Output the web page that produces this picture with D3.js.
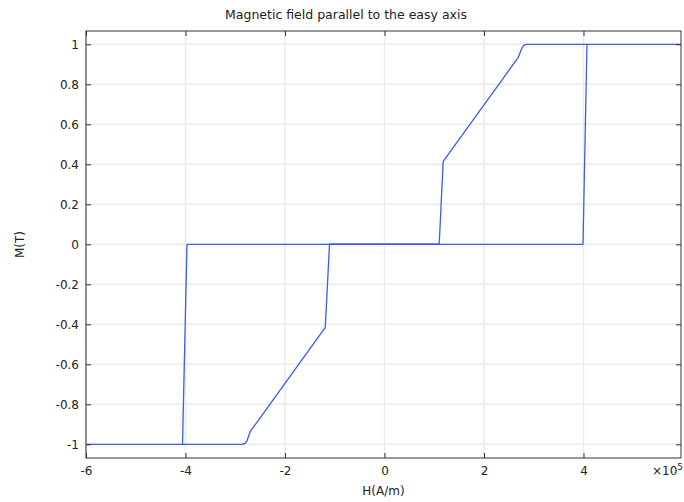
<!DOCTYPE html>
<html>
<head>
<meta charset="utf-8">
<script src="https://cdn.jsdelivr.net/npm/d3@7/dist/d3.min.js"></script>
<style>
  html, body { margin: 0; padding: 0; background: #fff; }
  svg { display: block; font-family: "DejaVu Sans", sans-serif; }
</style>
</head>
<body>
<svg id="chart" width="684" height="502"></svg>
<script>
// Hysteresis loop, H in units of 1e5 A/m, M in tesla.
// Ascending branch (H increasing from -6e5 to 6e5)
const hUp = [-6, -2.86, -2.80, -2.76, -2.70, -1.19, -1.105, 1.10, 1.18, 2.69, 2.76, 2.80, 2.86, 6];
const mUp = [-1, -1, -0.995, -0.98, -0.937, -0.415, 0.0015, 0.0015, 0.415, 0.935, 0.98, 0.995, 1, 1];
// Descending branch (H decreasing from 6e5 to -6e5)
const hDown = [6, 4.07, 3.99, -3.97, -4.06, -6];
const mDown = [1, 1, 0, 0, -1, -1];

const xTicks = [-6, -4, -2, 0, 2, 4];
const yTicks = [-1, -0.8, -0.6, -0.4, -0.2, 0, 0.2, 0.4, 0.6, 0.8, 1];

const title = "Magnetic field parallel to the easy axis";
const xLabel = "H(A/m)";
const yLabel = "M(T)";

const svg = d3.select("#chart");
const pLeft = 86, pRight = 681, pTop = 31, pBottom = 458;

const x = d3.scaleLinear().domain([-6, 5.96]).range([pLeft, pRight]);
const y = d3.scaleLinear().domain([-1.0685, 1.0665]).range([pBottom, pTop]);

// plain hyphen for negative numbers
const fmt = d => String(+d.toFixed(1));

// grid
const grid = svg.append("g").attr("stroke", "#ebebeb").attr("stroke-width", 1.5);
grid.selectAll("line.gx").data(xTicks).join("line").attr("class", "gx")
  .attr("x1", d => x(d)).attr("x2", d => x(d)).attr("y1", pTop).attr("y2", pBottom);
grid.selectAll("line.gy").data(yTicks).join("line").attr("class", "gy")
  .attr("y1", d => y(d)).attr("y2", d => y(d)).attr("x1", pLeft).attr("x2", pRight);

// clip for data
svg.append("clipPath").attr("id", "plotclip").append("rect")
  .attr("x", pLeft).attr("y", pTop).attr("width", pRight - pLeft).attr("height", pBottom - pTop);

const line = d3.line().x(d => x(d[0])).y(d => y(d[1]));
const upPts = hUp.map((h, i) => [h, mUp[i]]);
const downPts = hDown.map((h, i) => [h, mDown[i]]);

svg.append("path").attr("clip-path", "url(#plotclip)")
  .attr("d", line(upPts.concat(downPts)))
  .attr("fill", "none").attr("stroke", "#3a5cf4").attr("stroke-width", 1.3)
  .attr("stroke-linejoin", "round");

// axes: ticks inward on all four sides
const tickLen = 5;
const axisStyle = g => {
  g.select(".domain").remove();
  g.selectAll(".tick line").attr("stroke", "#333");
  g.selectAll(".tick text").attr("fill", "#222").style("font-size", "12px")
    .style("font-family", "DejaVu Sans, sans-serif");
};

svg.append("g").attr("transform", `translate(0,${pBottom})`)
  .call(d3.axisBottom(x).tickValues(xTicks).tickFormat(fmt).tickSizeInner(-tickLen).tickSizeOuter(0).tickPadding(8))
  .call(axisStyle);
svg.append("g").attr("transform", `translate(0,${pTop})`)
  .call(d3.axisTop(x).tickValues(xTicks).tickFormat("").tickSizeInner(-tickLen).tickSizeOuter(0))
  .call(axisStyle);
svg.append("g").attr("transform", `translate(${pLeft},0)`)
  .call(d3.axisLeft(y).tickValues(yTicks).tickFormat(fmt).tickSizeInner(-tickLen).tickSizeOuter(0).tickPadding(7))
  .call(axisStyle);
svg.append("g").attr("transform", `translate(${pRight},0)`)
  .call(d3.axisRight(y).tickValues(yTicks).tickFormat("").tickSizeInner(-tickLen).tickSizeOuter(0))
  .call(axisStyle);

// frame
svg.append("rect").attr("x", pLeft).attr("y", pTop).attr("width", pRight - pLeft).attr("height", pBottom - pTop)
  .attr("fill", "none").attr("stroke", "#333").attr("stroke-width", 1);

// title (centred on the page) and axis labels
svg.append("text").attr("x", 346).attr("y", 19).attr("text-anchor", "middle")
  .style("font-size", "12.5px").attr("fill", "#222").text(title);
svg.append("text").attr("x", (pLeft + pRight) / 2).attr("y", 495).attr("text-anchor", "middle")
  .style("font-size", "12px").attr("fill", "#222").text(xLabel);
svg.append("text").attr("transform", `translate(24,${(pTop + pBottom) / 2}) rotate(-90)`)
  .attr("text-anchor", "middle").style("font-size", "12px").attr("fill", "#222").text(yLabel);

// exponent marker
const ex = svg.append("text").attr("x", 683).attr("y", 475).attr("text-anchor", "end")
  .style("font-size", "12px").attr("fill", "#222");
ex.append("tspan").text("×10");
ex.append("tspan").attr("dy", -5).style("font-size", "9px").text("5");
</script>
</body>
</html>
